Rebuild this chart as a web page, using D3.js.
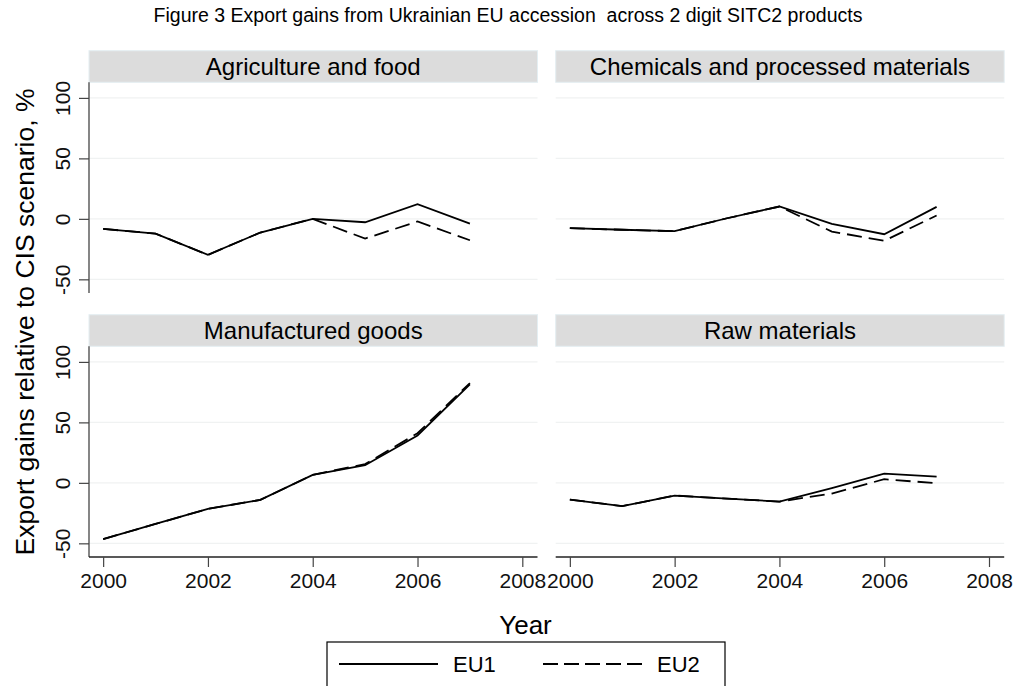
<!DOCTYPE html>
<html>
<head>
<meta charset="utf-8">
<script src="https://cdn.jsdelivr.net/npm/d3@7"></script>
<style>
  body { margin: 0; background: #fff; }
  svg { display: block; font-family: "Liberation Sans", Arial, sans-serif; }
</style>
</head>
<body>
<div id="container"></div>
<script>
const width = 1016, height = 686;

// data
const years = [2000, 2001, 2002, 2003, 2004, 2005, 2006, 2007];
const panelNames = ["Agriculture and food", "Chemicals and processed materials", "Manufactured goods", "Raw materials"];
const agriEU1 = [-8.3, -12.2, -29.8, -11.3, 0, -2.8, 12.2, -3.9];
const agriEU2 = [-8.3, -12.2, -29.8, -11.3, 0, -16.3, -2.2, -17.7];
const chemEU1 = [-7.7, -9.0, -10.2, 0.5, 10.2, -4.1, -12.7, 9.9];
const chemEU2 = [-7.7, -9.0, -10.2, 0.5, 10.2, -10.5, -18.2, 2.8];
const manuEU1 = [-46.5, -34, -21.5, -14.1, 6.6, 14.6, 39.2, 81.5];
const manuEU2 = [-46.5, -34, -21.5, -14.1, 6.6, 15.5, 41, 82.5];
const rawEU1 = [-13.8, -19.3, -10.5, -13, -15.5, -4.4, 7.7, 5.2];
const rawEU2 = [-13.8, -19.3, -10.5, -13, -15.5, -8.8, 3, -0.3];
const yTicks = [-50, 0, 50, 100];
const xTicks = [2000, 2002, 2004, 2006, 2008];
const seriesNames = ["EU1", "EU2"];

const panelData = [
    [agriEU1, agriEU2],
    [chemEU1, chemEU2],
    [manuEU1, manuEU2],
    [rawEU1, rawEU2]
];

const svg = d3.select("div#container")
    .append("svg")
    .attr("width", width)
    .attr("height", height);

// panel layout
const colX = [89, 555.7];
const panelW = 448.5;
const rowTop = [82.3, 346.3];
const panelH = 210.7;
const stripH = 31.6;

const x = d3.scaleLinear().domain([1999.73, 2008.29]).range([0, panelW]);
const y = d3.scaleLinear().domain([-61.3, 112.9]).range([panelH, 0]);

const line = d3.line()
    .x((d, i) => x(years[i]))
    .y(d => y(d));

// plain hyphen for negatives, like the original
const plain = d => String(d);

svg.append("text")
    .attr("x", 508)
    .attr("y", 22)
    .attr("text-anchor", "middle")
    .style("font-size", "19.5px")
    .text("Figure 3 Export gains from Ukrainian EU accession\u00a0\u00a0across 2 digit SITC2 products");

panelNames.forEach((name, p) => {
    const col = p % 2, row = Math.floor(p / 2);
    const g = svg.append("g")
        .attr("transform", `translate(${colX[col]},${rowTop[row]})`);

    // strip
    g.append("rect")
        .attr("x", 0).attr("y", -stripH)
        .attr("width", panelW).attr("height", stripH)
        .attr("fill", "#dcdcdc")
        .attr("stroke", "#e4eef2");
    g.append("text")
        .attr("x", panelW / 2)
        .attr("y", -stripH / 2 + 8.5)
        .attr("text-anchor", "middle")
        .style("font-size", "24px")
        .text(name);

    // grid
    g.selectAll("line.grid")
        .data(yTicks)
        .enter().append("line")
        .attr("class", "grid")
        .attr("x1", 0).attr("x2", panelW)
        .attr("y1", d => y(d)).attr("y2", d => y(d))
        .attr("stroke", "#f0f2f2")
        .attr("stroke-width", 1.2);

    if (col === 0) {
        const ya = g.append("g")
            .call(d3.axisLeft(y).tickValues(yTicks).tickSize(10).tickPadding(8).tickFormat(plain));
        ya.select(".domain").attr("d", `M0,0V${panelH}`).attr("stroke", "#444").attr("stroke-width", 1.3);
        ya.selectAll(".tick line").attr("stroke", "#444").attr("stroke-width", 1.2);
        ya.selectAll(".tick text")
            .attr("x", null).attr("dy", null)
            .attr("transform", "translate(-19,0) rotate(-90)")
            .attr("text-anchor", "middle")
            .attr("fill", "#111")
            .style("font-family", "Liberation Sans, Arial, sans-serif")
            .style("font-size", "21px");
    }
    if (row === 1) {
        const xa = g.append("g")
            .attr("transform", `translate(0,${panelH})`)
            .call(d3.axisBottom(x).tickValues(xTicks).tickSize(10).tickPadding(6).tickFormat(plain));
        xa.select(".domain").attr("d", `M0,0H${panelW}`).attr("stroke", "#222").attr("stroke-width", 1.3);
        xa.selectAll(".tick line").attr("stroke", "#444").attr("stroke-width", 1.2);
        xa.selectAll(".tick text")
            .attr("fill", "#111")
            .style("font-family", "Liberation Sans, Arial, sans-serif")
            .style("font-size", "21px");
    }

    // EU2 dashed first, EU1 solid on top
    g.append("path")
        .attr("d", line(panelData[p][1]))
        .attr("fill", "none")
        .attr("stroke", "#000")
        .attr("stroke-width", 1.8)
        .attr("stroke-dasharray", "15,7");
    g.append("path")
        .attr("d", line(panelData[p][0]))
        .attr("fill", "none")
        .attr("stroke", "#000")
        .attr("stroke-width", 1.8);
});

// axis titles
svg.append("text")
    .attr("transform", "translate(34,322) rotate(-90)")
    .attr("text-anchor", "middle")
    .style("font-size", "26.5px")
    .text("Export gains relative to CIS scenario, %");

svg.append("text")
    .attr("x", 525.5)
    .attr("y", 634)
    .attr("text-anchor", "middle")
    .style("font-size", "26px")
    .text("Year");

// legend
const leg = svg.append("g");
leg.append("rect")
    .attr("x", 327).attr("y", 642)
    .attr("width", 398).attr("height", 60)
    .attr("fill", "#fff")
    .attr("stroke", "#000")
    .attr("stroke-width", 1.2);
const legItems = [
    { name: seriesNames[0], x0: 339, dash: null },
    { name: seriesNames[1], x0: 543, dash: "15,6" }
];
legItems.forEach(it => {
    leg.append("line")
        .attr("x1", it.x0).attr("x2", it.x0 + 99)
        .attr("y1", 664).attr("y2", 664)
        .attr("stroke", "#000")
        .attr("stroke-width", 1.8)
        .attr("stroke-dasharray", it.dash);
    leg.append("text")
        .attr("x", it.x0 + 114)
        .attr("y", 671.5)
        .style("font-size", "22px")
        .text(it.name);
});
</script>
</body>
</html>
